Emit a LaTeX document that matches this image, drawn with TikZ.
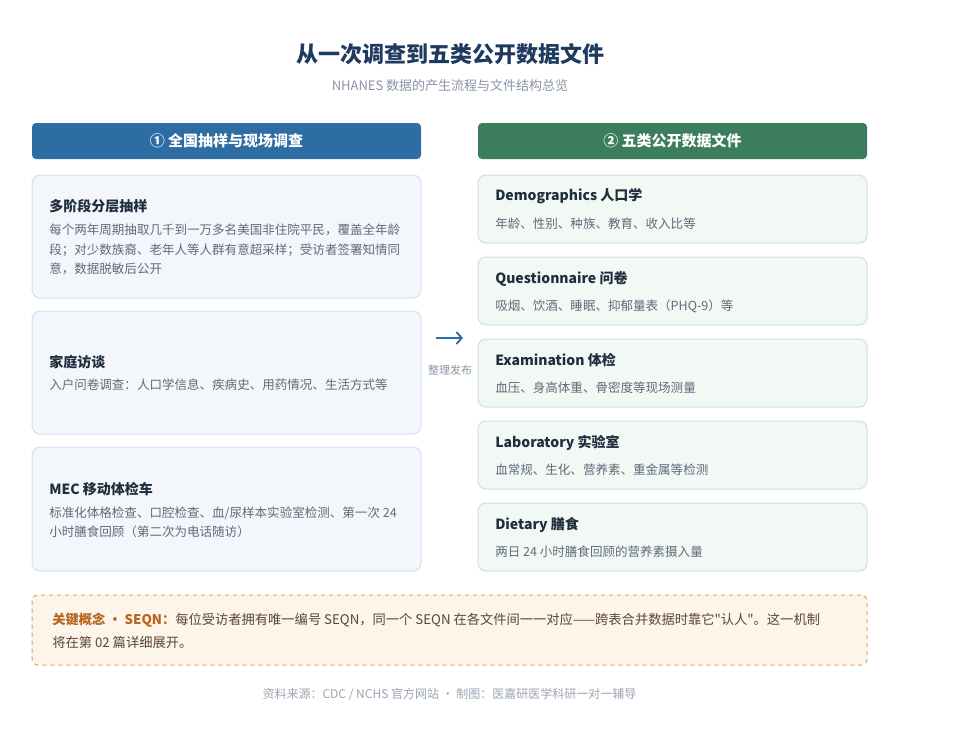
\documentclass[tikz,border=0pt]{standalone}
\usepackage{fontspec}
\setmainfont{Noto Sans CJK SC}[Ligatures=TeXOff]
\usetikzlibrary{arrows.meta}
\newlength\pxu \setlength\pxu{0.75pt}
\definecolor{titlec}{HTML}{1E3A5F}
\definecolor{subc}{HTML}{8A94A6}
\definecolor{bluehd}{HTML}{2E6DA4}
\definecolor{greenhd}{HTML}{3B7D5C}
\definecolor{lfill}{HTML}{F3F7FC}
\definecolor{lline}{HTML}{D3DFEE}
\definecolor{rfill}{HTML}{F2F8F4}
\definecolor{rline}{HTML}{CDE4D6}
\definecolor{boxtitle}{HTML}{1F2D3D}
\definecolor{bodyc}{HTML}{5F6B7A}
\definecolor{notefill}{HTML}{FDF4EA}
\definecolor{noteline}{HTML}{E0A062}
\definecolor{notekey}{HTML}{B5651D}
\definecolor{notetext}{HTML}{5B4636}
\tikzset{
  header/.style={rounded corners=4\pxu, minimum width=389\pxu, minimum height=36\pxu, inner sep=0pt,
     text=white, font=\fontsize{11.25}{13}\selectfont\bfseries},
  lbox/.style={draw=lline, fill=lfill, line width=0.75pt, rounded corners=8\pxu, minimum width=389\pxu, inner sep=0pt},
  rbox/.style={draw=rline, fill=rfill, line width=0.75pt, rounded corners=8\pxu, minimum width=389\pxu, minimum height=68\pxu, inner sep=0pt},
  btitle/.style={anchor=west, inner sep=0pt, text=boxtitle, font=\fontsize{10.5}{12}\selectfont\bfseries},
  btext/.style={anchor=north west, inner sep=0pt, align=left, text=bodyc, font=\fontsize{9.4}{14.6}\selectfont},
  arrowc/.style={draw=bluehd, line width=1.4pt, -{Straight Barb[length=4pt,width=9pt]}},
}
\begin{document}
\begin{tikzpicture}[x=0.75pt,y=-0.75pt]
\useasboundingbox[fill=white] (0,0) rectangle (960,739);

% Title
\node[inner sep=0pt, text=titlec, font=\fontsize{16.5}{19}\selectfont\bfseries] (title) at (450,54) {从一次调查到五类公开数据文件};
\node[inner sep=0pt, text=subc, font=\fontsize{9.75}{12}\selectfont] (subtitle) at (450,86) {NHANES 数据的产生流程与文件结构总览};

% Headers
\node[header, fill=bluehd] (hl) at (226.5,141) {① 全国抽样与现场调查};
\node[header, fill=greenhd] (hr) at (672.5,141) {② 五类公开数据文件};

% Left boxes
\node[lbox, minimum height=123\pxu] (l1) at (226.5,236.5) {};
\node[btitle] (l1t) at (49,206.5) {多阶段分层抽样};
\node[btext] (l1b) at (49,223.6) {每个两年周期抽取几千到一万多名美国非住院平民，覆盖全年龄\\段；对少数族裔、老年人等人群有意超采样；受访者签署知情同\\意，数据脱敏后公开};

\node[lbox, minimum height=123\pxu] (l2) at (226.5,372.5) {};
\node[btitle] (l2t) at (49,362.5) {家庭访谈};
\node[btext] (l2b) at (49,378.6) {入户问卷调查：人口学信息、疾病史、用药情况、生活方式等};

\node[lbox, minimum height=124\pxu] (l3) at (226.5,509) {};
\node[btitle] (l3t) at (49,489.5) {MEC 移动体检车};
\node[btext] (l3b) at (49,506.6) {标准化体格检查、口腔检查、血/尿样本实验室检测、第一次 24\\小时膳食回顾（第二次为电话随访）};

% Arrow
\coordinate (aS) at (436,338);
\coordinate (aE) at (463,338);
\draw[arrowc] (aS) -- (aE);
\node[inner sep=0pt, text=subc, font=\fontsize{8.25}{10}\selectfont] (alab) at (450,370) {整理发布};

% Right boxes
\node[rbox] (r1) at (672.5,209) {};
\node[btitle] (r1t) at (495,196.5) {Demographics 人口学};
\node[btext] (r1b) at (495,217.6) {年龄、性别、种族、教育、收入比等};

\node[rbox] (r2) at (672.5,291) {};
\node[btitle] (r2t) at (495,278.5) {Questionnaire 问卷};
\node[btext] (r2b) at (495,299.6) {吸烟、饮酒、睡眠、抑郁量表（PHQ-9）等};

\node[rbox] (r3) at (672.5,373) {};
\node[btitle] (r3t) at (495,360.5) {Examination 体检};
\node[btext] (r3b) at (495,381.6) {血压、身高体重、骨密度等现场测量};

\node[rbox] (r4) at (672.5,455) {};
\node[btitle] (r4t) at (495,442.5) {Laboratory 实验室};
\node[btext] (r4b) at (495,463.6) {血常规、生化、营养素、重金属等检测};

\node[rbox] (r5) at (672.5,537) {};
\node[btitle] (r5t) at (495,524.5) {Dietary 膳食};
\node[btext] (r5b) at (495,545.6) {两日 24 小时膳食回顾的营养素摄入量};

% Note
\node[draw=noteline, fill=notefill, dashed, line width=0.75pt, rounded corners=6\pxu,
      minimum width=835\pxu, minimum height=70\pxu, inner sep=0pt] (note) at (449.5,630) {};
\node[anchor=north west, inner sep=0pt, align=left, text=notetext, font=\fontsize{9.95}{17.25}\selectfont] (notet) at (52,612.8) {{\color{notekey}\bfseries 关键概念 · SEQN：}每位受访者拥有唯一编号 SEQN，同一个 SEQN 在各文件间一一对应——跨表合并数据时靠它"认人"。这一机制\\将在第 02 篇详细展开。};

% Footer
\node[inner sep=0pt, text=subc!85!white, font=\fontsize{9}{10}\selectfont] (footer) at (449.5,694) {资料来源：CDC / NCHS 官方网站 · 制图：医嘉研医学科研一对一辅导};
\end{tikzpicture}
\end{document}
